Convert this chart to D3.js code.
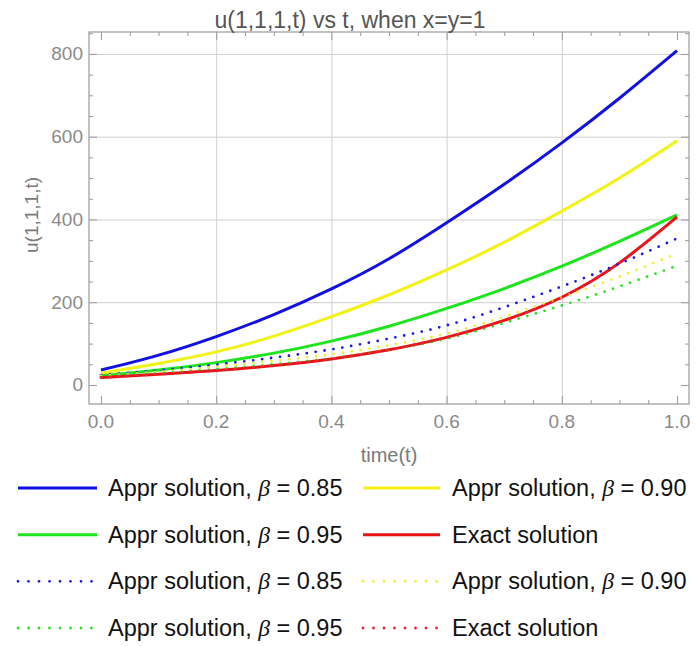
<!DOCTYPE html>
<html>
<head>
<meta charset="utf-8">
<script src="https://cdn.jsdelivr.net/npm/d3@7"></script>
<style>
  html, body { margin: 0; padding: 0; background: #fff; }
  svg { display: block; }
  text { font-family: "Liberation Sans", Arial, sans-serif; }
</style>
</head>
<body>
<svg id="chart" width="696" height="646"></svg>
<script>
// ---------- data ----------
const titleText = "u(1,1,1,t) vs t, when x=y=1";
const xLabel = "time(t)";
const yLabel = "u(1,1,1,t)";
const tValues = [0, 0.1, 0.2, 0.3, 0.4, 0.5, 0.6, 0.7, 0.8, 0.9, 1.0];

const blueSolid   = [36, 72, 117, 170, 232, 305, 392, 485, 585, 693, 808];
const yellowSolid = [28, 52, 80, 118, 165, 218, 278, 345, 420, 500, 590];
const greenSolid  = [22, 36, 54, 77, 106, 142, 185, 233, 287, 347, 411];
const redSolid    = [18, 26, 35, 47, 63, 85, 115, 156, 212, 295, 406];
const blueDotted  = [24, 35, 49, 66, 86, 112, 144, 188, 238, 293, 354];
const yellowDotted= [22, 32, 44, 58, 74, 96, 124, 165, 212, 262, 318];
const greenDotted = [19, 28, 38, 50, 64, 85, 112, 150, 192, 238, 288];
const redDotted   = [18, 26, 35, 47, 63, 85, 115, 156, 212, 295, 406];

const xTickLabels = ["0.0", "0.2", "0.4", "0.6", "0.8", "1.0"];
const xMajor = [0, 0.2, 0.4, 0.6, 0.8, 1.0];
const xMinor = [0.05,0.1,0.15,0.25,0.3,0.35,0.45,0.5,0.55,0.65,0.7,0.75,0.85,0.9,0.95];
const yTickLabels = ["0", "200", "400", "600", "800"];
const yMajor = [0, 200, 400, 600, 800];
const yMinor = [-50, 50, 100, 150, 250, 300, 350, 450, 500, 550, 650, 700, 750, 850];
const xGrid = [0.2, 0.4, 0.6, 0.8];
const yGrid = [200, 400, 600, 800];

const seriesNames = [
  {label: "Appr solution, ", beta: "0.85", values: blueSolid,   color: "#1010e4", dotted: false},
  {label: "Appr solution, ", beta: "0.90", values: yellowSolid, color: "#f2f214", dotted: false},
  {label: "Appr solution, ", beta: "0.95", values: greenSolid,  color: "#1ee41e", dotted: false},
  {label: "Exact solution",  beta: null,   values: redSolid,    color: "#e81414", dotted: false},
  {label: "Appr solution, ", beta: "0.85", values: blueDotted,  color: "#1a1ae6", dotted: true},
  {label: "Appr solution, ", beta: "0.90", values: yellowDotted,color: "#f0f030", dotted: true},
  {label: "Appr solution, ", beta: "0.95", values: greenDotted, color: "#22e622", dotted: true},
  {label: "Exact solution",  beta: null,   values: redDotted,   color: "#e81e3c", dotted: true}
];

// ---------- layout ----------
const svg = d3.select("#chart");
const L = 89, R = 689, T = 32, B = 404;
const x = d3.scaleLinear().domain([-0.0208, 1.0208]).range([L, R]);
const y = d3.scaleLinear().domain([-46, 853]).range([B, T]);

const frameColor = "#9a9a9a";
const gridColor = "#cfcfcf";

// gridlines
svg.append("g").attr("transform", `translate(0,${B})`)
  .call(d3.axisBottom(x).tickValues(xGrid).tickSize(-(B - T)).tickFormat(""))
  .call(g => { g.select(".domain").remove(); g.selectAll("line").attr("stroke", gridColor); });
svg.append("g").attr("transform", `translate(${L},0)`)
  .call(d3.axisLeft(y).tickValues(yGrid).tickSize(-(R - L)).tickFormat(""))
  .call(g => { g.select(".domain").remove(); g.selectAll("line").attr("stroke", gridColor); });

// frame ticks
function tickAxis(axisFn, scale, vals, size, transform) {
  svg.append("g").attr("transform", transform)
    .call(axisFn(scale).tickValues(vals).tickSize(size).tickFormat(""))
    .call(g => { g.select(".domain").remove(); g.selectAll("line").attr("stroke", frameColor); });
}
const yMinorIn = yMinor.filter(v => y(v) >= T && y(v) <= B);
tickAxis(d3.axisBottom, x, xMajor, -8, `translate(0,${B})`);
tickAxis(d3.axisBottom, x, xMinor, -4, `translate(0,${B})`);
tickAxis(d3.axisTop, x, xMajor, -8, `translate(0,${T})`);
tickAxis(d3.axisTop, x, xMinor, -4, `translate(0,${T})`);
tickAxis(d3.axisLeft, y, yMajor, -8, `translate(${L},0)`);
tickAxis(d3.axisLeft, y, yMinorIn, -4, `translate(${L},0)`);
tickAxis(d3.axisRight, y, yMajor, -8, `translate(${R},0)`);
tickAxis(d3.axisRight, y, yMinorIn, -4, `translate(${R},0)`);

// frame
svg.append("rect").attr("x", L).attr("y", T).attr("width", R - L).attr("height", B - T)
  .attr("fill", "none").attr("stroke", frameColor).attr("stroke-width", 1.2);

// tick labels
svg.append("g").selectAll("text").data(xMajor).join("text")
  .attr("x", d => x(d)).attr("y", B + 17).attr("text-anchor", "middle")
  .attr("dominant-baseline", "central")
  .attr("font-size", 19).attr("fill", "#8a8a8a")
  .text((d, i) => xTickLabels[i]);
svg.append("g").selectAll("text").data(yMajor).join("text")
  .attr("x", L - 6).attr("y", d => y(d)).attr("text-anchor", "end")
  .attr("dominant-baseline", "central")
  .attr("font-size", 19).attr("fill", "#8a8a8a")
  .text((d, i) => yTickLabels[i]);

// axis labels and title
svg.append("text").attr("x", (x(0) + x(1)) / 2).attr("y", 455)
  .attr("text-anchor", "middle").attr("dominant-baseline", "central")
  .attr("font-size", 20).attr("fill", "#7a7a7a").text(xLabel);
svg.append("text").attr("transform", "translate(31,215) rotate(-90)")
  .attr("text-anchor", "middle").attr("dominant-baseline", "central")
  .attr("font-size", 19).attr("fill", "#7a7a7a").text(yLabel);
svg.append("text").attr("x", 350).attr("y", 20)
  .attr("text-anchor", "middle").attr("dominant-baseline", "central")
  .attr("font-size", 23).attr("fill", "#555").text(titleText);

// lines
const line = d3.line().x((d, i) => x(tValues[i])).y(d => y(d)).curve(d3.curveNatural);
const plot = svg.append("g");
seriesNames.forEach(s => {
  const p = plot.append("path").datum(s.values)
    .attr("fill", "none").attr("stroke", s.color).attr("d", line);
  if (s.dotted) {
    p.attr("stroke-width", 2.8).attr("stroke-linecap", "round").attr("stroke-dasharray", "0,9");
  } else {
    p.attr("stroke-width", 3);
  }
});

// legend
const rowY = [488, 534.7, 581.3, 628];
const colLine = [[18, 97], [363, 440]];
const colText = [108, 452];
const leg = svg.append("g");
seriesNames.forEach((s, i) => {
  const row = Math.floor(i / 2), col = i % 2;
  const yy = rowY[row];
  const ln = leg.append("line")
    .attr("x1", colLine[col][0]).attr("x2", colLine[col][1])
    .attr("y1", yy).attr("y2", yy).attr("stroke", s.color);
  if (s.dotted) {
    ln.attr("stroke-width", 2.8).attr("stroke-linecap", "round").attr("stroke-dasharray", "0,10.5");
  } else {
    ln.attr("stroke-width", 3);
  }
  const t = leg.append("text").attr("x", colText[col]).attr("y", yy)
    .attr("dominant-baseline", "central").attr("font-size", 23.5).attr("fill", "#111");
  t.append("tspan").text(s.label);
  if (s.beta) {
    t.append("tspan").attr("font-family", "'Liberation Serif', serif").attr("font-style", "italic").text("β");
    t.append("tspan").text(" = " + s.beta);
  }
});
</script>
</body>
</html>
